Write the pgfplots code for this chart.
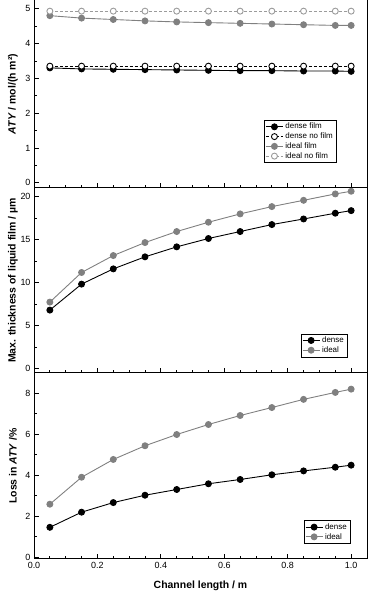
\documentclass[border=0pt]{standalone}
\usepackage{fontspec}
\setmainfont{Liberation Sans}
\usepackage{pgfplots}
\pgfplotsset{compat=1.18}

\definecolor{grayline}{RGB}{128,128,128}
\definecolor{grayopen}{RGB}{155,155,155}

\pgfplotsset{
  panel/.style={
    scale only axis, width=333bp,
    xmin=0, xmax=1.05,
    xtick={0,0.2,0.4,0.6,0.8,1.0}, minor x tick num=3,
    minor y tick num=1,
    tick align=inside, xtick pos=bottom, ytick pos=left,
    major tick length=5bp, minor tick length=3bp,
    tick style={black, line width=0.8pt},
    axis line style={line width=1pt},
    ticklabel style={font=\fontsize{9}{10}\selectfont},
    label style={font=\bfseries\fontsize{10.5}{12}\selectfont},
    /pgf/number format/assume math mode=true,
    ylabel style={at={(axis description cs:-0.063,0.5)}, anchor=center},
    legend style={font=\fontsize{8}{9}\selectfont, draw=black, line width=0.5pt,
      inner sep=1pt, row sep=-1.5pt, anchor=south east},
    legend cell align=left,
  },
  dfilm/.style={black, line width=0.9pt, mark=*, mark size=3bp, mark options={fill=black, solid}},
  dno/.style={black, line width=0.9pt, dash pattern=on 3pt off 2pt, mark=*, mark size=3bp, mark options={fill=white, solid}},
  ifilm/.style={grayline, line width=0.9pt, mark=*, mark size=3bp, mark options={fill=grayline, solid}},
  ino/.style={grayopen, line width=0.9pt, dash pattern=on 3pt off 2pt, mark=*, mark size=3bp, mark options={fill=white, solid}},
}

\begin{document}
\begin{tikzpicture}
% panel 1: ATY
\begin{axis}[panel, name=top, height=188bp,
    ymin=-0.15, ymax=5.25, ytick={0,1,2,3,4,5},
    xticklabels={},
    ylabel={\textit{ATY} / mol/(h m²)},
    legend style={at={(axis description cs:0.907,0.133)}}]
\addplot[dfilm] coordinates {(0.05,3.30) (0.15,3.27) (0.25,3.26) (0.35,3.25) (0.45,3.24) (0.55,3.23) (0.65,3.22) (0.75,3.22) (0.85,3.21) (0.95,3.21) (1.0,3.20)};
\addplot[dno] coordinates {(0.05,3.35) (0.15,3.35) (0.25,3.35) (0.35,3.35) (0.45,3.35) (0.55,3.35) (0.65,3.35) (0.75,3.35) (0.85,3.35) (0.95,3.35) (1.0,3.35)};
\addplot[ifilm] coordinates {(0.05,4.80) (0.15,4.73) (0.25,4.69) (0.35,4.65) (0.45,4.62) (0.55,4.60) (0.65,4.58) (0.75,4.56) (0.85,4.54) (0.95,4.52) (1.0,4.52)};
\addplot[ino] coordinates {(0.05,4.93) (0.15,4.93) (0.25,4.93) (0.35,4.93) (0.45,4.93) (0.55,4.93) (0.65,4.93) (0.75,4.93) (0.85,4.93) (0.95,4.93) (1.0,4.93)};
\legend{dense film, dense no film, ideal film, ideal no film}
\end{axis}
% panel 2: film thickness
\begin{axis}[panel, name=mid, height=185bp, at={(top.south west)}, anchor=north west,
    ymin=-0.5, ymax=21, ytick={0,5,10,15,20},
    xticklabels={},
    ylabel={Max. thickness of liquid film / µm},
    legend style={at={(axis description cs:0.94,0.086)}}]
\addplot[dfilm] coordinates {(0.05,6.81) (0.15,9.83) (0.25,11.6) (0.35,13.0) (0.45,14.16) (0.55,15.13) (0.65,15.94) (0.75,16.75) (0.85,17.4) (0.95,18.07) (1.0,18.37)};
\addplot[ifilm] coordinates {(0.05,7.74) (0.15,11.18) (0.25,13.15) (0.35,14.66) (0.45,15.94) (0.55,17.02) (0.65,17.99) (0.75,18.84) (0.85,19.57) (0.95,20.31) (1.0,20.62)};
\legend{dense, ideal}
\end{axis}
% panel 3: loss in ATY
\begin{axis}[panel, name=bot, height=186bp, at={(mid.south west)}, anchor=north west,
    ymin=-0.1, ymax=9, ytick={0,2,4,6,8},
    xticklabel style={/pgf/number format/.cd, fixed, fixed zerofill, precision=1},
    xlabel={Channel length / m},
    xlabel style={yshift=-5bp},
    ylabel={Loss in \textit{ATY} /\%},
    legend style={at={(axis description cs:0.949,0.082)}}]
\addplot[dfilm] coordinates {(0.05,1.45) (0.15,2.19) (0.25,2.66) (0.35,3.02) (0.45,3.30) (0.55,3.58) (0.65,3.79) (0.75,4.02) (0.85,4.21) (0.95,4.39) (1.0,4.49)};
\addplot[ifilm] coordinates {(0.05,2.58) (0.15,3.90) (0.25,4.77) (0.35,5.44) (0.45,5.99) (0.55,6.48) (0.65,6.92) (0.75,7.31) (0.85,7.71) (0.95,8.05) (1.0,8.21)};
\legend{dense, ideal}
\end{axis}
\pgfresetboundingbox
\path[use as bounding box] (top.north west) ++(-34bp,0) rectangle ++(369bp,-595bp);
\end{tikzpicture}
\end{document}
